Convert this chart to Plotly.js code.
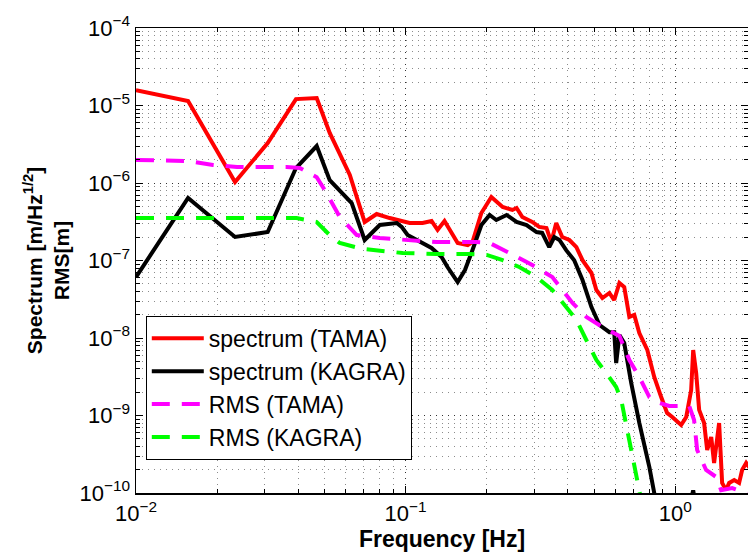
<!DOCTYPE html>
<html>
<head>
<meta charset="utf-8">
<script src="https://cdn.plot.ly/plotly-3.0.1.min.js"></script>
<style>html,body{margin:0;padding:0;background:#fff;}#chart{width:748px;height:557px;}</style>
</head>
<body>
<div id="chart"></div>
<script>
// Frequency [Hz] and values
var tamaSpecFreq = [0.01,0.0156,0.0233,0.0308,0.0392,0.0468,0.0523,0.0621,0.0705,0.0781,0.0873,0.1035,0.1156,0.1248,0.1314,0.1394,0.156,0.170,0.177,0.191,0.208,0.229,0.249,0.258,0.271,0.295,0.313,0.333,0.347,0.362,0.381,0.405,0.430,0.453,0.489,0.510,0.537,0.570,0.594,0.621,0.647,0.676,0.705,0.736,0.788,0.836,0.887,0.933,0.975,1.052,1.099,1.146,1.166,1.196,1.227,1.280,1.314,1.360,1.394,1.455,1.493,1.545,1.585,1.655,1.726,1.771,1.833,1.91];
var tamaSpec = [1.58e-5,1.14e-5,1.03e-6,3.28e-6,1.21e-5,1.25e-5,4.42e-6,1.27e-6,3.14e-7,3.98e-7,3.53e-7,3.05e-7,3.05e-7,3.24e-7,2.48e-7,3.24e-7,1.68e-7,1.58e-7,1.73e-7,4.10e-7,6.59e-7,4.90e-7,4.49e-7,4.76e-7,3.64e-7,3.14e-7,2.71e-7,2.63e-7,1.73e-7,3.05e-7,2.01e-7,1.84e-7,1.49e-7,1.01e-7,6.90e-8,4.16e-8,3.28e-8,3.81e-8,3.09e-8,5.13e-8,4.55e-8,1.87e-8,1.98e-8,1.16e-8,7.0e-9,3.14e-9,1.73e-9,1.08e-9,9.57e-10,7.54e-10,9.57e-10,2.13e-9,7.0e-9,3.53e-9,1.18e-9,8.0e-10,3.59e-10,5.28e-10,2.44e-10,8.0e-10,1.35e-10,1.09e-10,1.35e-10,1.47e-10,1.35e-10,1.98e-10,2.44e-10,2.0e-10];

var kagraSpecFreq = [0.01,0.0156,0.0233,0.0308,0.0392,0.0468,0.0523,0.0631,0.0705,0.0781,0.0802,0.0927,0.0967,0.1017,0.1127,0.1248,0.136,0.143,0.156,0.166,0.176,0.191,0.205,0.217,0.237,0.258,0.281,0.306,0.321,0.341,0.356,0.372,0.394,0.422,0.453,0.489,0.524,0.570,0.594,0.604,0.621,0.647,0.687,0.736,0.802,0.836,0.873,0.95,1.12,1.166,1.21,1.4];
var kagraSpec = [6.12e-8,6.40e-7,2.01e-7,2.33e-7,1.56e-6,3.0e-6,1.09e-6,5.52e-7,1.84e-7,2.71e-7,2.87e-7,3.05e-7,2.71e-7,2.13e-7,1.73e-7,1.45e-7,1.11e-7,8.24e-8,5.28e-8,7.54e-8,1.29e-7,2.87e-7,3.87e-7,3.33e-7,3.87e-7,3.14e-7,2.87e-7,2.33e-7,2.27e-7,1.49e-7,2.01e-7,1.84e-7,1.36e-7,1.01e-7,5.6e-8,2.51e-8,1.47e-8,1.19e-8,1.19e-8,4.75e-9,1.09e-8,8.61e-9,2.62e-9,8.0e-10,2.16e-10,1.03e-10,4.5e-11,2.5e-11,6.0e-11,1.08e-10,5.0e-11,2.0e-11];

var tamaRmsFreq = [0.01,0.0156,0.0193,0.0237,0.0362,0.0405,0.0468,0.0509,0.0570,0.0659,0.0802,0.0975,0.130,0.183,0.205,0.243,0.295,0.350,0.381,0.416,0.468,0.537,0.621,0.676,0.736,0.802,0.873,0.950,1.127,1.175,1.206,1.302,1.419,1.48,1.626,1.833,2.0];
var tamaRms = [1.98e-6,1.92e-6,1.71e-6,1.61e-6,1.61e-6,1.56e-6,1.19e-6,7.43e-7,3.64e-7,2.13e-7,1.95e-7,1.84e-7,1.73e-7,1.73e-7,1.68e-7,1.25e-7,8.75e-8,6.12e-8,4.16e-8,2.83e-8,1.87e-8,1.39e-8,1.06e-8,5.2e-9,3.14e-9,1.73e-9,1.45e-9,1.33e-9,1.33e-9,8.75e-10,3.59e-10,1.98e-10,1.61e-10,1.09e-10,1.16e-10,1.0e-10,8.0e-11];

var kagraRmsFreq = [0.01,0.0394,0.0468,0.0523,0.0570,0.0693,0.0975,0.130,0.173,0.2,0.229,0.264,0.306,0.350,0.394,0.430,0.468,0.510,0.555,0.604,0.631,0.659,0.693,0.736,0.767];
var kagraRms = [3.53e-7,3.53e-7,3.14e-7,2.13e-7,1.68e-7,1.41e-7,1.25e-7,1.21e-7,1.21e-7,1.18e-7,1.01e-7,8.24e-8,6.12e-8,4.16e-8,2.51e-8,1.71e-8,9.42e-9,5.2e-9,3.53e-9,2.33e-9,1.58e-9,7.11e-10,2.92e-10,1.09e-10,5.2e-11];

var seriesNames = ['spectrum (TAMA)','spectrum (KAGRA)','RMS (TAMA)','RMS (KAGRA)'];
var seriesColors = ['#ff0000','#000000','#ff00ff','#00ff00'];

// Tick labels
var xTickVals = [0.01, 0.1, 1];
var xTickText = ['10<sup>\u22122</sup>', '10<sup>\u22121</sup>', '10<sup>0</sup>'];
var yTickVals = [1e-10, 1e-9, 1e-8, 1e-7, 1e-6, 1e-5, 1e-4];
var yTickText = ['10<sup>\u221210</sup>', '10<sup>\u22129</sup>', '10<sup>\u22128</sup>', '10<sup>\u22127</sup>', '10<sup>\u22126</sup>', '10<sup>\u22125</sup>', '10<sup>\u22124</sup>'];
var xTitle = 'Frequency [Hz]';
var yTitle = 'Spectrum [m/Hz<sup>1/2</sup>]<br>RMS[m]';

// minor tick positions (2..9 within each decade) for the log axes
function minorVals(lo, hi) {
  var out = [];
  for (var e = lo; e < hi; e++) {
    for (var m = 2; m <= 9; m++) out.push(m * Math.pow(10, e));
  }
  return out;
}

var FONT = 'Liberation Sans, Arial, Helvetica, sans-serif';
var dashPat = '18px,12px';

var traces = [
  {x: tamaSpecFreq, y: tamaSpec, name: seriesNames[0], mode: 'lines', line: {color: seriesColors[0], width: 4}},
  {x: kagraSpecFreq, y: kagraSpec, name: seriesNames[1], mode: 'lines', line: {color: seriesColors[1], width: 4}},
  {x: tamaRmsFreq, y: tamaRms, name: seriesNames[2], mode: 'lines', line: {color: seriesColors[2], width: 4, dash: dashPat}},
  {x: kagraRmsFreq, y: kagraRms, name: seriesNames[3], mode: 'lines', line: {color: seriesColors[3], width: 4, dash: dashPat}}
];

var gridMajor = 'rgba(0,0,0,0.8)';
var gridMinor = 'rgba(0,0,0,0.45)';
var gridDash = '1px,5px';

function axisBase(range, tv, tt, mv) {
  return {
    type: 'log', range: range,
    tickmode: 'array', tickvals: tv, ticktext: tt,
    showline: true, linecolor: '#000', linewidth: 1.5, mirror: 'allticks',
    ticks: 'inside', ticklen: 7, tickcolor: '#000',
    showgrid: true, gridcolor: gridMajor, griddash: gridDash, gridwidth: 1,
    minor: {tickmode: 'array', tickvals: mv, ticks: 'inside', ticklen: 4, tickcolor: '#000', showgrid: true, gridcolor: gridMinor, griddash: gridDash, gridwidth: 1},
    zeroline: false,
    tickfont: {family: FONT, size: 22, color: '#000'}
  };
}

var xaxis = axisBase([-2, 0.27], xTickVals, xTickText, minorVals(-2, 1));
xaxis.title = {text: xTitle, font: {family: FONT, size: 23, color: '#000', weight: 'bold'}, standoff: 6};
var yaxis = axisBase([-10, -4], yTickVals, yTickText, minorVals(-10, -4));

var layout = {
  width: 748, height: 557,
  margin: {l: 136, r: 0, t: 28, b: 64},
  paper_bgcolor: '#fff', plot_bgcolor: '#fff',
  font: {family: FONT, color: '#000', size: 21},
  showlegend: true,
  legend: {
    x: 0.016, y: 0.381, xanchor: 'left', yanchor: 'top',
    bgcolor: '#fff', bordercolor: '#000', borderwidth: 1,
    font: {family: FONT, size: 23, color: '#000'},
    itemwidth: 52,
    tracegroupgap: 0
  },
  annotations: [{
    text: yTitle, xref: 'paper', yref: 'paper', x: -0.146, y: 0.5,
    xanchor: 'center', yanchor: 'middle', textangle: -90, showarrow: false,
    font: {family: FONT, size: 21, color: '#000', weight: 'bold'}
  }],
  xaxis: xaxis,
  yaxis: yaxis
};

Plotly.newPlot('chart', traces, layout, {staticPlot: true, displayModeBar: false});
</script>
</body>
</html>
